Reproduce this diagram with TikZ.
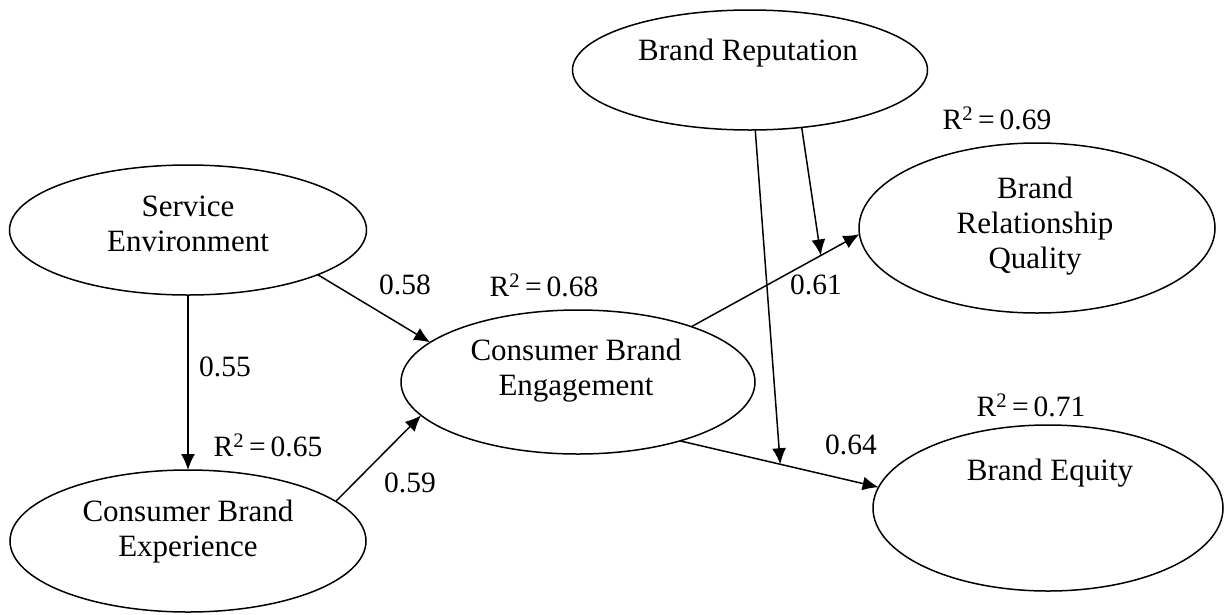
\documentclass[tikz,border=0pt]{standalone}
\usepackage{fontspec}
\setmainfont{Liberation Serif}
\usetikzlibrary{shapes.geometric,arrows.meta}
\begin{document}
\begin{tikzpicture}[x=1pt,y=-1pt,
  latent/.style={draw,ellipse,line width=1.5pt,inner sep=0pt,outer sep=0pt},
  txt/.style={font=\fontsize{31}{35}\selectfont,align=center,inner sep=0pt},
  lbl/.style={font=\fontsize{29.5}{34}\selectfont,inner sep=0pt},
  arr/.style={line width=1.5pt,-{Latex[length=16pt,width=14pt]}}]
\useasboundingbox (0,0) rectangle (1225,614);
% latent variables
\node[latent,minimum width=357pt,minimum height=130pt] (se) at (188,230) {};
\node[latent,minimum width=356pt,minimum height=142pt] (cbx) at (188,541) {};
\node[latent,minimum width=354pt,minimum height=144pt] (cbe) at (578,382) {};
\node[latent,minimum width=355pt,minimum height=120pt] (br) at (750,70) {};
\node[latent,minimum width=356pt,minimum height=170pt] (brq) at (1037,228) {};
\node[latent,minimum width=350pt,minimum height=166pt] (be) at (1048,508) {};
% texts
\node[txt] (tse) at (188,224) {Service\\Environment};
\node[txt] (tcbx) at (188,532) {Consumer Brand\\Experience};
\node[txt] (tcbe) at (576,371) {Consumer Brand\\Engagement};
\node[txt] (tbr) at (748,53) {Brand Reputation};
\node[txt] (tbrq) at (1035,226) {Brand\\Relationship\\Quality};
\node[txt] (tbe) at (1050,473) {Brand Equity};
% paths
\draw[arr] (se.south) -- (cbx.north);
\draw[arr] (se.-19) -- (cbe.165);
\draw[arr] (cbx.15) -- (cbe.192);
\draw[arr] (cbe.26) -- (brq.182) coordinate[pos=0.77] (m1);
\draw[arr] (cbe.-30) -- (be.173) coordinate[pos=0.505] (m2);
\draw[arr] (br.-85) -- (m2);
\draw[arr] (br.-48) -- (m1);
% labels
\node[lbl] (l55) at (225,367) {0.55};
\node[lbl] (r65) at (268,445) {R\textsuperscript{2}\,=\,0.65};
\node[lbl] (l58) at (405,285) {0.58};
\node[lbl] (r68) at (544,285) {R\textsuperscript{2}\,=\,0.68};
\node[lbl] (l59) at (410,483) {0.59};
\node[lbl] (l61) at (816,285) {0.61};
\node[lbl] (l64) at (851,445) {0.64};
\node[lbl] (r69) at (997,118) {R\textsuperscript{2}\,=\,0.69};
\node[lbl] (r71) at (1031,405) {R\textsuperscript{2}\,=\,0.71};
\end{tikzpicture}
\end{document}
